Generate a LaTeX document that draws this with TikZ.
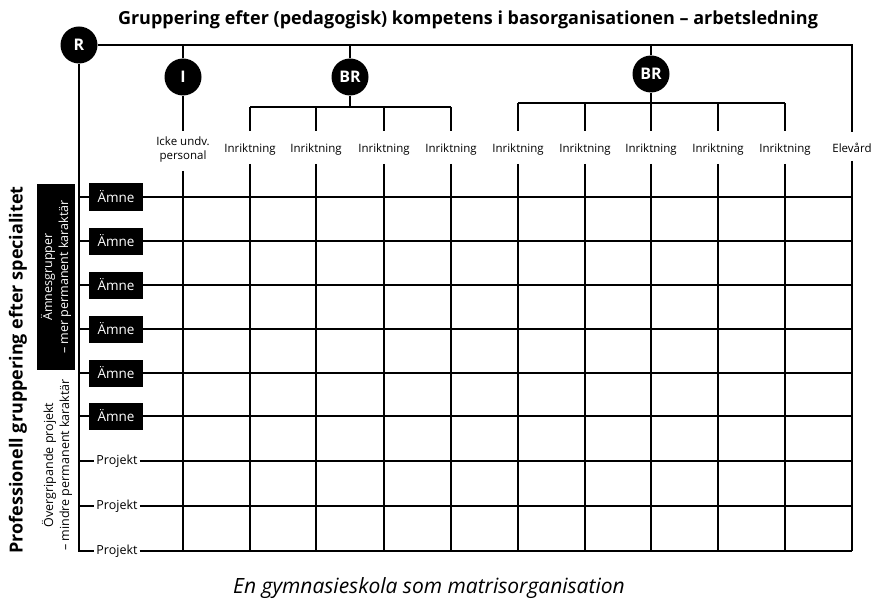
\documentclass[tikz,border=0pt]{standalone}
\usepackage{fontspec}
\setmainfont{Open Sans}
\begin{document}
\begin{tikzpicture}[x=1pt,y=-1pt,
  ln/.style={line width=1.1pt},
  circ/.style={circle,fill=black,text=white,minimum size=37pt,inner sep=0pt,font=\bfseries\fontsize{16}{16}\selectfont},
  col/.style={font=\fontsize{11.5}{14}\selectfont,align=center,inner sep=1pt},
  amne/.style={fill=black,text=white,minimum width=54pt,minimum height=27pt,inner sep=0pt,font=\fontsize{13.5}{13.5}\selectfont},
  proj/.style={font=\fontsize{12.5}{12.5}\selectfont,inner sep=2pt}]
\useasboundingbox (0,0) rectangle (880,604);
% title and caption
\node[font=\bfseries\fontsize{18}{18}\selectfont] (title) at (468,20) {Gruppering efter (pedagogisk) kompetens i basorganisationen – arbetsledning};
\node[font=\itshape\fontsize{21}{21}\selectfont] (cap) at (429,588) {En gymnasieskola som matrisorganisation};
% circles
\node[circ] (R) at (79,45) {R};
\node[circ] (I) at (183,77) {I};
\node[circ] (BR1) at (350,77) {BR};
\node[circ] (BR2) at (651,74) {BR};
% column labels
\node[col] (c1) at (183,150) {Icke undv.\\personal};
\foreach \i/\x in {2/250,3/316,4/384,5/451,6/518,7/585,8/651,9/718,10/785}
  \node[col] (c\i) at (\x,150) {Inriktning};
\node[col] (c11) at (852,148) {Elevård};
% rows
\foreach \i/\y in {1/197,2/241,3/285,4/329,5/373,6/416}
  \node[amne] (a\i) at (116,\y) {Ämne};
\foreach \i/\y in {1/461,2/506,3/551}
  \node[proj] (p\i) at (117,\y) {Projekt};
% top connections
\draw[ln] (R.east) -- (R.east -| c11) -- ([yshift=10pt]c11.north);
\draw[ln] (I.north) -- (I.north |- R.east);
\draw[ln] (I.south) -- ([yshift=5pt]c1.north);
\draw[ln] (BR1.north) -- (BR1.north |- R.east);
\draw[ln] (BR2.north) -- (BR2.north |- R.east);
\coordinate (b1) at (350,107);
\coordinate (b2) at (651,103);
\draw[ln] (BR1.south) -- (b1);
\draw[ln] (BR2.south) -- (b2);
\draw[ln] (c2.north |- b1) -- (c5.north |- b1);
\draw[ln] (c6.north |- b2) -- (c10.north |- b2);
\foreach \i in {2,3,4,5}
  \draw[ln] (c\i.north |- b1) -- ([yshift=12pt]c\i.north);
\foreach \i in {6,7,8,9,10}
  \draw[ln] (c\i.north |- b2) -- ([yshift=12pt]c\i.north);
% grid verticals
\foreach \i in {1,...,11}
  \draw[ln] ([yshift=-7pt]c\i.south) -- (c\i.south |- p3);
% left spine
\draw[ln] (R.south) -- (R.south |- p3) -- (p3.west);
% rows horizontals
\foreach \i in {1,...,6}{
  \draw[ln] (a\i.west -| R.south) -- (a\i.west);
  \draw[ln] (a\i.east) -- (a\i.east -| c11);
}
\foreach \i in {1,2}
  \draw[ln] (p\i.west -| R.south) -- (p\i.west);
\foreach \i in {1,2,3}
  \draw[ln] (p\i.east) -- (p\i.east -| c11);
% left group labels
\node[rotate=90,fill=black,text=white,minimum width=185pt,minimum height=38pt,inner sep=0pt,align=center,font=\fontsize{12.5}{16}\selectfont] (g1) at (56,277) {Ämnesgrupper\\– mer permanent karaktär};
\node[rotate=90,align=center,inner sep=0pt,font=\fontsize{12.5}{16}\selectfont] (g2) at (57,465) {Övergripande projekt\\– mindre permanent karaktär};
\node[rotate=90,font=\bfseries\fontsize{18}{18}\selectfont] (side) at (18,370) {Professionell gruppering efter specialitet};
\end{tikzpicture}
\end{document}
